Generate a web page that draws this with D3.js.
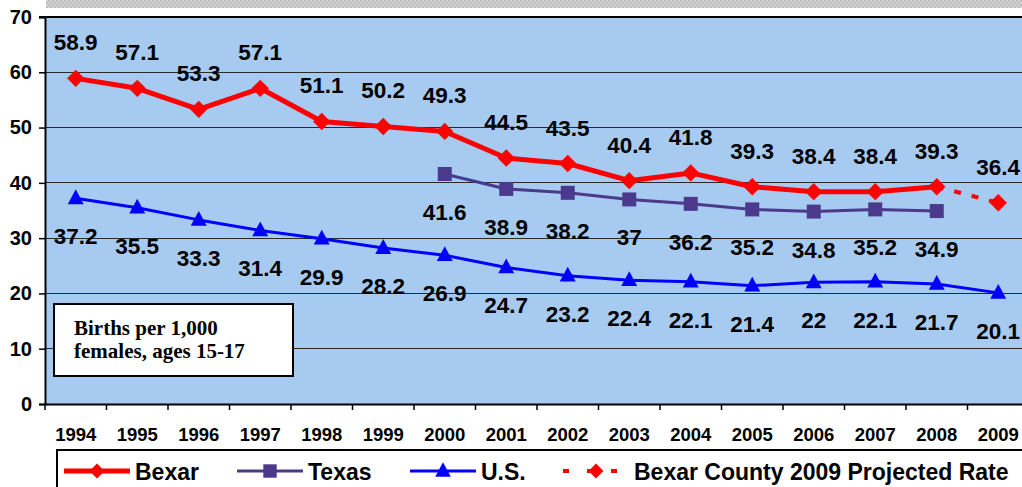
<!DOCTYPE html>
<html><head><meta charset="utf-8">
<script src="https://cdn.jsdelivr.net/npm/d3@7/dist/d3.min.js"></script>
<style>html,body{margin:0;padding:0;background:#fff;overflow:hidden}svg{display:block}</style>
</head><body>
<script>
const years = ["1994","1995","1996","1997","1998","1999","2000","2001","2002","2003","2004","2005","2006","2007","2008","2009"];
const bexar = [58.9,57.1,53.3,57.1,51.1,50.2,49.3,44.5,43.5,40.4,41.8,39.3,38.4,38.4,39.3,null];
const texas = [null,null,null,null,null,null,41.6,38.9,38.2,37,36.2,35.2,34.8,35.2,34.9,null];
const us = [37.2,35.5,33.3,31.4,29.9,28.2,26.9,24.7,23.2,22.4,22.1,21.4,22,22.1,21.7,20.1];
const projected = [null,null,null,null,null,null,null,null,null,null,null,null,null,null,39.3,36.4];
const yTicks = [0,10,20,30,40,50,60,70];
const legendLabels = ["Bexar","Texas","U.S.","Bexar County 2009 Projected Rate"];
const noteLines = ["Births per 1,000","females, ages 15-17"];

const W = 1022, H = 487;
const svg = d3.select("body").append("svg").attr("width", W).attr("height", H);
const defs = svg.append("defs");
const pat = defs.append("pattern").attr("id","hatch").attr("width",4).attr("height",4).attr("patternUnits","userSpaceOnUse");
pat.append("rect").attr("width",4).attr("height",4).attr("fill","#d4d4d4");
pat.append("rect").attr("width",2).attr("height",2).attr("fill","#bcbcbc");
pat.append("rect").attr("x",2).attr("y",2).attr("width",2).attr("height",2).attr("fill","#bcbcbc");
svg.append("rect").attr("x",46).attr("y",0).attr("width",W-46).attr("height",8).attr("fill","url(#hatch)");

const x = d3.scaleBand().domain(years).range([45, 1029]).padding(0);
const y = d3.scaleLinear().domain([0,70]).range([404, 17]);
const cx = d => x(d) + x.bandwidth()/2;

svg.append("rect").attr("x",45).attr("y",17).attr("width",1029-45).attr("height",404-17).attr("fill","#a6caf0");

svg.append("g").selectAll("line").data(yTicks.filter(t => t>0 && t<70)).join("line")
  .attr("x1",45).attr("x2",W).attr("y1",d=>y(d)).attr("y2",d=>y(d))
  .attr("stroke","#2a2a2a").attr("stroke-width",1).attr("shape-rendering","crispEdges");
svg.append("line").attr("x1",39).attr("x2",W).attr("y1",y(70)).attr("y2",y(70)).attr("stroke","#000").attr("stroke-width",2);

const font = "Liberation Sans, Arial, sans-serif";
const yAxis = svg.append("g").attr("transform","translate(45,0)")
  .call(d3.axisLeft(y).tickValues(yTicks).tickSize(6).tickFormat(d3.format("d")));
yAxis.select(".domain").attr("stroke","#000").attr("stroke-width",2);
yAxis.selectAll(".tick line").attr("stroke","#000").attr("stroke-width",1.5);
yAxis.selectAll(".tick text").attr("font-family",font).attr("font-weight","bold").attr("font-size","20px").attr("fill","#000").attr("x",-13);

const xAxis = svg.append("g").attr("transform","translate(0,404)")
  .call(d3.axisBottom(x).tickSize(0));
xAxis.select(".domain").attr("stroke","#000").attr("stroke-width",2);
xAxis.selectAll(".tick text").attr("font-family",font).attr("font-weight","bold").attr("font-size","18.5px").attr("fill","#000").attr("y",24);
svg.append("g").selectAll("line").data(years.concat(["end"])).join("line")
  .attr("x1",(d,i)=>45 + i*x.step()).attr("x2",(d,i)=>45 + i*x.step())
  .attr("y1",404).attr("y2",410).attr("stroke","#000").attr("stroke-width",1.5);

function series(vals, color, width, dash) {
  const pts = years.map((yr,i)=>({yr, v: vals[i]})).filter(d=>d.v!=null);
  const line = d3.line().x(d=>cx(d.yr)).y(d=>y(d.v));
  svg.append("path").datum(pts).attr("d",line).attr("fill","none").attr("stroke",color)
    .attr("stroke-width",width).attr("stroke-linejoin","round").attr("stroke-dasharray",dash||null);
  return pts;
}
function markers(pts, type, size, color) {
  svg.append("g").selectAll("path").data(pts).join("path")
    .attr("transform",d=>`translate(${cx(d.yr)},${y(d.v)})`)
    .attr("d", d3.symbol().type(type).size(size)).attr("fill",color);
}
function labels(pts, dy) {
  svg.append("g").selectAll("text").data(pts).join("text")
    .attr("x",d=>cx(d.yr)).attr("y",d=>y(d.v)+dy).attr("text-anchor","middle")
    .attr("font-family",font).attr("font-weight","bold").attr("font-size","22.5px").attr("fill","#000")
    .text(d=>d.v);
}

const usPts = series(us, "#0000ff", 3);
const txPts = series(texas, "#4b3a8c", 3);
const prPts = series(projected, "#ff0000", 4, "7,11");
const bxPts = series(bexar, "#ff0000", 5);

const triUp = {draw(ctx, size){const s=Math.sqrt(size); ctx.moveTo(0,-s*0.62); ctx.lineTo(s*0.55,s*0.4); ctx.lineTo(-s*0.55,s*0.4); ctx.closePath();}};
const diam = {draw(ctx,size){const s=Math.sqrt(size)/2; ctx.moveTo(0,-s); ctx.lineTo(s,0); ctx.lineTo(0,s); ctx.lineTo(-s,0); ctx.closePath();}};
const sq = {draw(ctx,size){const s=Math.sqrt(size)/2; ctx.rect(-s,-s,2*s,2*s);}};

markers(usPts, triUp, 210, "#0000ff");
markers(txPts, sq, 196, "#4b3a8c");
markers(bxPts, diam, 300, "#ff0000");
markers(prPts.filter(d=>d.yr==="2009"), diam, 300, "#ff0000");

labels(bxPts, -28);
labels(prPts.filter(d=>d.yr==="2009"), -28);
labels(txPts, 46);
labels(usPts, 46);

svg.append("rect").attr("x",54).attr("y",304).attr("width",239).attr("height",72).attr("fill","#fff").attr("stroke","#000").attr("stroke-width",2);
svg.append("g").selectAll("text").data(noteLines).join("text")
  .attr("x",74).attr("y",(d,i)=>335 + i*23)
  .attr("font-family","Liberation Serif, Times New Roman, serif").attr("font-weight","bold").attr("font-size","21px").attr("fill","#000")
  .text(d=>d);

svg.append("rect").attr("x",57).attr("y",450).attr("width",1100).attr("height",80).attr("fill","#fff").attr("stroke","#000").attr("stroke-width",2);
const legItems = [
  {label: legendLabels[0], x0: 64, color:"#ff0000", w:5, sym: diam, size:220, dash:null},
  {label: legendLabels[1], x0: 237, color:"#4b3a8c", w:3, sym: sq, size:180, dash:null},
  {label: legendLabels[2], x0: 410, color:"#0000ff", w:3, sym: triUp, size:200, dash:null},
  {label: legendLabels[3], x0: 563, color:"#ff0000", w:4, sym: diam, size:220, dash:"6,18"}
];
const lg = svg.append("g").selectAll("g").data(legItems).join("g").attr("transform",d=>`translate(${d.x0},471)`);
lg.append("line").attr("x1",0).attr("x2",66).attr("y1",0).attr("y2",0).attr("stroke",d=>d.color).attr("stroke-width",d=>d.w).attr("stroke-dasharray",d=>d.dash);
lg.append("path").attr("transform","translate(33,0)").attr("d",d=>d3.symbol().type(d.sym).size(d.size)()).attr("fill",d=>d.color);
lg.append("text").attr("x",71).attr("y",8.5).attr("font-family",font).attr("font-weight","bold").attr("font-size","23px").attr("fill","#000").text(d=>d.label);
</script>
</body></html>
